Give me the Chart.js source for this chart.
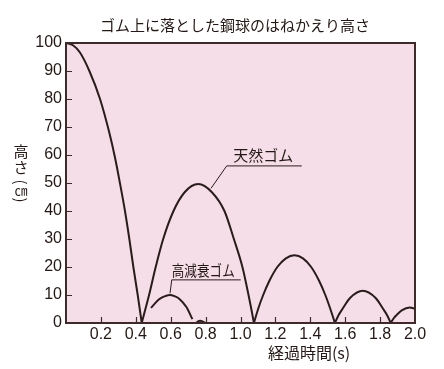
<!DOCTYPE html>
<html>
<head>
<meta charset="utf-8">
<script src="https://cdn.jsdelivr.net/npm/chart.js@4.4.1/dist/chart.umd.min.js"></script>
<style>
html,body{margin:0;padding:0;background:#ffffff;}
#wrap{width:444px;height:369px;position:relative;}
</style>
</head>
<body>
<div id="wrap"><canvas id="c" width="444" height="369"></canvas></div>
<script>
// ---- text ----
const chartTitle = 'ゴム上に落とした鋼球のはねかえり高さ';
const xAxisTitle = '経過時間(s)';
const yAxisTitleChars = ['高', 'さ', '(', '㎝', ')'];
const seriesNames = ['天然ゴム', '高減衰ゴム'];

// ---- axis ranges / ticks ----
const xMin = 0, xMax = 2.0, xStep = 0.2;
const yMin = 0, yMax = 100, yStep = 10;

// ---- 天然ゴム (natural rubber): time (s) and height (cm), one pair per bounce arc ----
const naturalTime1   = [0, 0.04, 0.08, 0.134, 0.195, 0.248, 0.281, 0.309, 0.338, 0.363, 0.386, 0.411, 0.434];
const naturalHeight1 = [100, 99.2, 96.6, 90, 80, 68, 59, 50, 40, 30, 20, 10, 0];
const naturalTime2   = [0.434, 0.455, 0.476, 0.514, 0.557, 0.616, 0.68, 0.758, 0.836, 0.908, 0.962, 1.011, 1.046, 1.062, 1.077];
const naturalHeight2 = [0, 5, 10, 20, 30, 40, 46.7, 49.6, 46.7, 40, 30, 20, 10, 5, 0];
const naturalTime3   = [1.077, 1.101, 1.130, 1.165, 1.211, 1.26, 1.309, 1.358, 1.405, 1.451, 1.486, 1.515, 1.541];
const naturalHeight3 = [0, 5, 10, 15, 20, 23.1, 24.2, 23.1, 20, 15, 10, 5, 0];
const naturalTime4   = [1.541, 1.561, 1.584, 1.629, 1.701, 1.773, 1.818, 1.841, 1.861];
const naturalHeight4 = [0, 2.7, 5, 9, 11.5, 9, 5, 2.7, 0];
const naturalTime5   = [1.861, 1.878, 1.897, 1.924, 1.97, 2.0];
const naturalHeight5 = [0, 1.7, 3.0, 4.5, 5.5, 5.1];

// ---- 高減衰ゴム (high-damping rubber) ----
const dampingTime1   = [0.487, 0.51, 0.53, 0.56, 0.592, 0.625, 0.65, 0.69, 0.724];
const dampingHeight1 = [5.4, 7.0, 8.3, 9.4, 10, 9.5, 8.6, 5.7, 1.4];
const dampingTime2   = [0.745, 0.757, 0.768, 0.782, 0.797];
const dampingHeight2 = [0, 0.6, 0.8, 0.6, 0];

// ---- styles ----
const PINK = '#f5dee8';
const FRAME = '#3d2a2b';
const CURVE = '#2a1b1c';
const TEXT = '#231815';
const CJK = "'Noto Sans CJK JP', 'Noto Sans', sans-serif";
const NUM = "'Liberation Sans', Arial, sans-serif";

// annotation placement in data units: text anchor and leader line
const annotations = [
  {text: seriesNames[0], x: 0.959, y: 59.9, size: 15, maxW: 62,
   leader: [[0.831, 48.1], [0.921, 56.1], [1.351, 56.1]]},
  {text: seriesNames[1], x: 0.606, y: 19.0, size: 15, maxW: 63,
   leader: [[0.596, 10.6], [0.606, 15.4], [1.001, 15.4]]}
];
const xTitlePos = 1.393; // centre of x title in data units

function pts(t, h) { return t.map((v, i) => ({x: v, y: h[i]})); }

const arcs = [
  [seriesNames[0], naturalTime1, naturalHeight1],
  [seriesNames[0], naturalTime2, naturalHeight2],
  [seriesNames[0], naturalTime3, naturalHeight3],
  [seriesNames[0], naturalTime4, naturalHeight4],
  [seriesNames[0], naturalTime5, naturalHeight5],
  [seriesNames[1], dampingTime1, dampingHeight1],
  [seriesNames[1], dampingTime2, dampingHeight2]
];

const datasets = arcs.map(([name, t, h]) => ({
  label: name,
  data: pts(t, h),
  borderColor: CURVE,
  borderWidth: 2,
  pointRadius: 0,
  pointHoverRadius: 0,
  fill: false,
  cubicInterpolationMode: 'monotone'
}));

const framePlugin = {
  id: 'frame',
  beforeDatasetsDraw(chart) {
    const {ctx, chartArea: a} = chart;
    ctx.save();
    ctx.fillStyle = PINK;
    ctx.fillRect(a.left, a.top, a.right - a.left, a.bottom - a.top);
    ctx.restore();
  },
  afterDatasetsDraw(chart) {
    const {ctx, chartArea: a, scales: {x, y}} = chart;
    ctx.save();
    // inward tick marks
    ctx.strokeStyle = FRAME;
    ctx.lineWidth = 1.2;
    ctx.beginPath();
    x.ticks.forEach(t => {
      if (t.value > x.min + 1e-9 && t.value < x.max - 1e-9) {
        const px = Math.round(x.getPixelForValue(t.value)) + 0.5;
        ctx.moveTo(px, a.bottom); ctx.lineTo(px, a.bottom - 6);
      }
    });
    y.ticks.forEach(t => {
      if (t.value > y.min && t.value < y.max) {
        const py = Math.round(y.getPixelForValue(t.value)) + 0.5;
        ctx.moveTo(a.left, py); ctx.lineTo(a.left + 6, py);
      }
    });
    ctx.stroke();
    // frame
    ctx.lineWidth = 2;
    ctx.strokeRect(a.left, a.top, a.right - a.left, a.bottom - a.top);

    // annotations
    annotations.forEach(an => {
      ctx.strokeStyle = CURVE;
      ctx.lineWidth = 1;
      ctx.beginPath();
      an.leader.forEach(([lx, ly], i) => {
        const px = x.getPixelForValue(lx), py = y.getPixelForValue(ly);
        if (i === 0) ctx.moveTo(px, py); else ctx.lineTo(px, py);
      });
      ctx.stroke();
      ctx.fillStyle = TEXT;
      ctx.font = an.size + 'px ' + CJK;
      ctx.textAlign = 'left';
      ctx.textBaseline = 'middle';
      ctx.fillText(an.text, x.getPixelForValue(an.x), y.getPixelForValue(an.y), an.maxW);
    });

    // x axis title
    ctx.fillStyle = TEXT;
    ctx.font = '16px ' + CJK;
    ctx.textAlign = 'center';
    ctx.textBaseline = 'middle';
    ctx.fillText(xAxisTitle, x.getPixelForValue(xTitlePos), a.bottom + 30);

    // y axis title, vertical writing
    const cx = a.left - 45;
    const ys = [a.top + 108, a.top + 124, a.top + 139, a.top + 147, a.top + 157];
    ctx.font = '15px ' + CJK;
    yAxisTitleChars.forEach((ch, i) => {
      ctx.save();
      ctx.translate(cx, ys[i]);
      if (ch === '(' || ch === ')') ctx.rotate(Math.PI / 2);
      if (ch === '㎝') ctx.font = '13px ' + CJK;
      ctx.fillText(ch, 0, 0);
      ctx.restore();
    });
    ctx.restore();
  }
};

new Chart(document.getElementById('c'), {
  type: 'line',
  data: {datasets},
  options: {
    responsive: false,
    animation: false,
    devicePixelRatio: 1,
    layout: {padding: {left: 26, right: 0, top: 0, bottom: 0}},
    plugins: {
      legend: {display: false},
      tooltip: {enabled: false},
      title: {
        display: true,
        text: chartTitle,
        color: TEXT,
        font: {family: CJK, size: 15, weight: 'normal'},
        padding: {top: 16, bottom: 9}
      }
    },
    scales: {
      x: {
        type: 'linear',
        min: xMin, max: xMax,
        grid: {display: false, drawTicks: false},
        border: {display: false},
        ticks: {
          stepSize: xStep,
          padding: 2,
          color: TEXT,
          font: {family: NUM, size: 16},
          maxRotation: 0,
          autoSkip: false,
          callback: v => (Math.abs(v) < 1e-9 ? '' : v.toFixed(1))
        },
        afterFit(s) { s.height = 46; s.paddingRight = 29; s.paddingLeft = 0; }
      },
      y: {
        type: 'linear',
        min: yMin, max: yMax,
        grid: {display: false, drawTicks: false},
        border: {display: false},
        ticks: {
          stepSize: yStep,
          padding: 4,
          color: TEXT,
          font: {family: NUM, size: 16}
        },
        afterFit(s) { s.width = 40; }
      }
    }
  },
  plugins: [framePlugin]
});
</script>
</body>
</html>
